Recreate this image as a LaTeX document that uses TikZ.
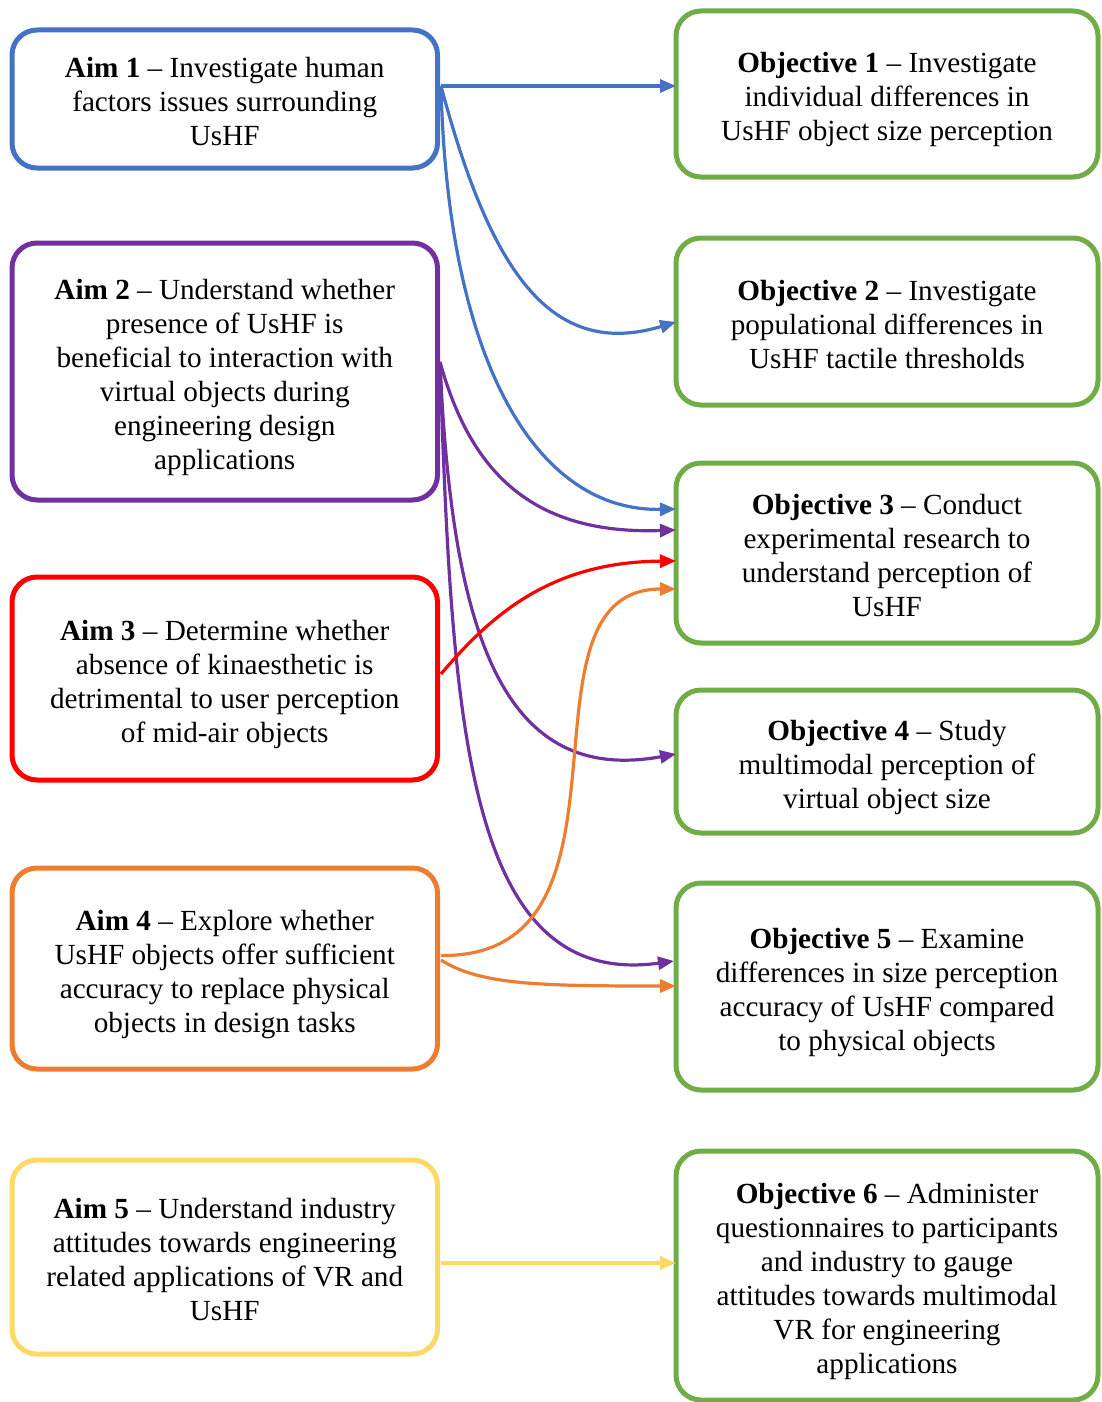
\documentclass[tikz,border=0pt]{standalone}
\usepackage{fontspec}
\setmainfont{Liberation Serif}
\usetikzlibrary{arrows.meta}
\definecolor{cblue}{HTML}{4472C4}
\definecolor{cpurple}{HTML}{7030A0}
\definecolor{cred}{HTML}{FF0000}
\definecolor{corange}{HTML}{ED7D31}
\definecolor{cyellow}{HTML}{FFD966}
\definecolor{cgreen}{HTML}{70AD47}
% fixed line boxes for the first and last line of each text block
\newcommand\firstline{\rule{0pt}{34pt}}
\newcommand\lastline{\rule[-9pt]{0pt}{9pt}}
\tikzset{
  box/.style={draw, line width=5pt, rounded corners=25pt, outer sep=0pt,
    align=center, inner sep=0pt,
    font=\fontsize{29.2}{34}\selectfont},
  aimbox/.style={box, minimum width=425.5pt},
  objbox/.style={box, draw=cgreen, minimum width=422pt},
  link/.style={line width=3.2pt, -{Triangle[length=16pt,width=13pt]}},
}
\begin{document}
\begin{tikzpicture}[x=1pt,y=-1pt]
\useasboundingbox (0,0) rectangle (1101,1402);

% aims
\node[aimbox, draw=cblue, minimum height=138pt] (a1) at (224.75,99)
  {\firstline\textbf{Aim 1} -- Investigate human\\factors issues surrounding\\UsHF\lastline};
\node[aimbox, draw=cpurple, minimum height=257pt] (a2) at (224.75,371.5)
  {\firstline\textbf{Aim 2} -- Understand whether\\presence of UsHF is\\beneficial to interaction with\\virtual objects during\\engineering design\\applications\lastline};
\node[aimbox, draw=cred, minimum height=203pt] (a3) at (224.75,678.5)
  {\firstline\textbf{Aim 3} -- Determine whether\\absence of kinaesthetic is\\detrimental to user perception\\of mid-air objects\lastline};
\node[aimbox, draw=corange, minimum height=201pt] (a4) at (224.75,968.5)
  {\firstline\textbf{Aim 4} -- Explore whether\\UsHF objects offer sufficient\\accuracy to replace physical\\objects in design tasks\lastline};
\node[aimbox, draw=cyellow, minimum height=194pt] (a5) at (224.75,1257)
  {\firstline\textbf{Aim 5} -- Understand industry\\attitudes towards engineering\\related applications of VR and\\UsHF\lastline};

% objectives
\node[objbox, minimum height=166pt] (o1) at (887,94)
  {\firstline\textbf{Objective 1} -- Investigate\\individual differences in\\UsHF object size perception\lastline};
\node[objbox, minimum height=167pt] (o2) at (887,321.5)
  {\firstline\textbf{Objective 2} -- Investigate\\populational differences in\\UsHF tactile thresholds\lastline};
\node[objbox, minimum height=180pt] (o3) at (887,553)
  {\firstline\textbf{Objective 3} -- Conduct\\experimental research to\\understand perception of\\UsHF\lastline};
\node[objbox, minimum height=143pt] (o4) at (887,761.5)
  {\firstline\textbf{Objective 4} -- Study\\multimodal perception of\\virtual object size\lastline};
\node[objbox, minimum height=207pt] (o5) at (887,986.5)
  {\firstline\textbf{Objective 5} -- Examine\\differences in size perception\\accuracy of UsHF compared\\to physical objects\lastline};
\node[objbox, minimum height=249pt] (o6) at (887,1275.5)
  {\firstline\textbf{Objective 6} -- Administer\\questionnaires to participants\\and industry to gauge\\attitudes towards multimodal\\VR for engineering\\applications\lastline};

% connector ports
\coordinate (p1) at ([xshift=3.5pt,yshift=13pt]a1.east);
\coordinate (p2) at ([xshift=2.5pt,yshift=9.5pt]a2.east);
\coordinate (p3) at ([xshift=3.5pt,yshift=4.5pt]a3.east);
\coordinate (p4a) at ([xshift=3.5pt,yshift=13pt]a4.east);
\coordinate (p4b) at ([xshift=3.5pt,yshift=8.5pt]a4.east);
\coordinate (p5) at ([xshift=3.5pt,yshift=-6pt]a5.east);

% aim 1
\draw[link, cblue] (p1) -- (p1 -| o1.west);
\draw[link, cblue] (p1) .. controls (490,270) and (550,360) .. ([yshift=-0.5pt]o2.west);
\draw[link, cblue] (p1) .. controls (448,370) and (540,512) .. ([yshift=44pt]o3.west);
% aim 2
\draw[link, cpurple] (p2) .. controls (470,470) and (530,535) .. ([yshift=23pt]o3.west);
\draw[link, cpurple] (p2) .. controls (452,640) and (505,785) .. ([yshift=7.5pt]o4.west);
\draw[link, cpurple] (p2) .. controls (452,720) and (465,990) .. ([xshift=-2pt,yshift=25.5pt]o5.west);
% aim 3
\draw[link, cred] (p3) .. controls (495,610) and (555,562) .. ([yshift=-8pt]o3.west);
% aim 4
\draw[link, corange] (p4a) .. controls (655,958) and (505,589) .. ([yshift=-36pt]o3.west);
\draw[link, corange] (p4b) .. controls (480,985) and (540,986) .. ([yshift=0.5pt]o5.west);
% aim 5
\draw[link, cyellow] (p5) -- (p5 -| o6.west);
\end{tikzpicture}
\end{document}
